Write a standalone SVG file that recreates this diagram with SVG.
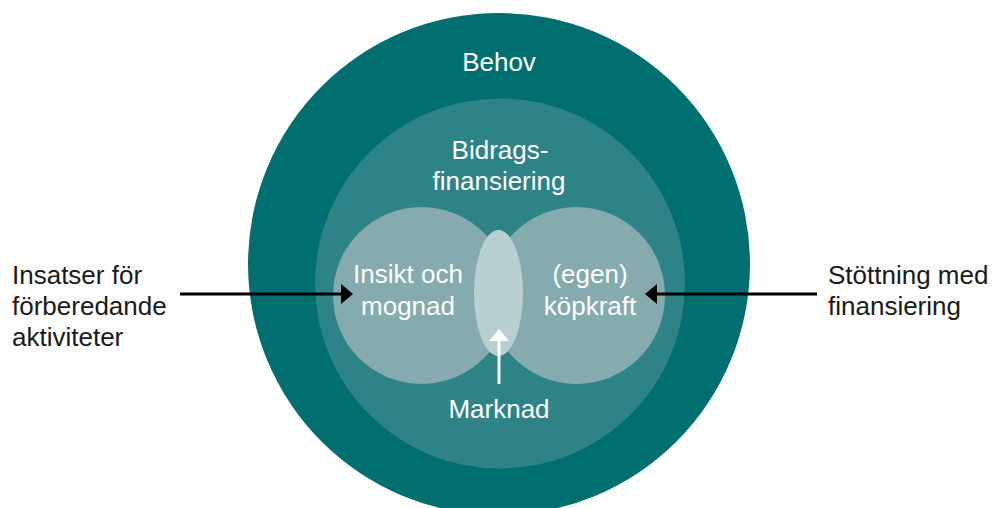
<svg xmlns="http://www.w3.org/2000/svg" width="995" height="508" viewBox="0 0 995 508">
  <style>
    text { font-family: "Liberation Sans", Arial, sans-serif; font-size: 26px; }
    .w { fill: #ffffff; text-anchor: middle; }
    .k { fill: #1a1a1a; }
    .outer { fill: #016f6f; }
    .mid { fill: #2e8387; }
    .inner { fill: #86abaf; }
    .lens { fill: #b8cfd2; }
    .conn { stroke-width: 3; fill: none; }
  </style>
  <defs>
    <marker id="ahBlack" markerUnits="userSpaceOnUse" markerWidth="12" markerHeight="20" refX="6" refY="10" orient="auto" viewBox="0 0 12 20">
      <path d="M0,0 L12,10 L0,20 z" fill="#000"/>
    </marker>
    <marker id="ahWhite" markerUnits="userSpaceOnUse" markerWidth="12" markerHeight="20" refX="6" refY="10" orient="auto" viewBox="0 0 12 20">
      <path d="M0,0 L12,10 L0,20 z" fill="#fff"/>
    </marker>
  </defs>
  <rect width="995" height="508" fill="#ffffff"/>

  <g id="behov">
    <circle class="outer" cx="499" cy="264" r="251"/>
    <text class="w" x="499" y="71">Behov</text>
  </g>
  <g id="bidragsfinansiering">
    <circle class="mid" cx="500" cy="283.5" r="185"/>
    <text class="w" x="500" y="159">Bidrags-</text>
    <text class="w" x="499" y="190">finansiering</text>
  </g>
  <g id="insikt">
    <circle class="inner" cx="421.5" cy="295.5" r="88.5"/>
    <text class="w" x="408" y="283">Insikt och</text>
    <text class="w" x="408" y="315">mognad</text>
  </g>
  <g id="kopkraft">
    <circle class="inner" cx="576.5" cy="295.5" r="88.5"/>
    <text class="w" x="590" y="283">(egen)</text>
    <text class="w" x="590" y="315">köpkraft</text>
  </g>
  <g id="marknad">
    <ellipse class="lens" cx="498.5" cy="293" rx="24.5" ry="63"/>
    <text class="w" x="499" y="418">Marknad</text>
  </g>
  <g id="insatser">
    <text class="k" x="12" y="284">Insatser för</text>
    <text class="k" x="12" y="315">förberedande</text>
    <text class="k" x="12" y="346">aktiviteter</text>
  </g>
  <g id="stottning">
    <text class="k" x="828" y="284">Stöttning med</text>
    <text class="k" x="828" y="315">finansiering</text>
  </g>

  <g id="connectors">
    <path class="conn" d="M180,294 L347,294" stroke="#000" marker-end="url(#ahBlack)"/>
    <path class="conn" d="M817,294 L651,294" stroke="#000" marker-end="url(#ahBlack)"/>
    <path class="conn" d="M499,384 L499,335" stroke="#fff" marker-end="url(#ahWhite)"/>
  </g>
</svg>
